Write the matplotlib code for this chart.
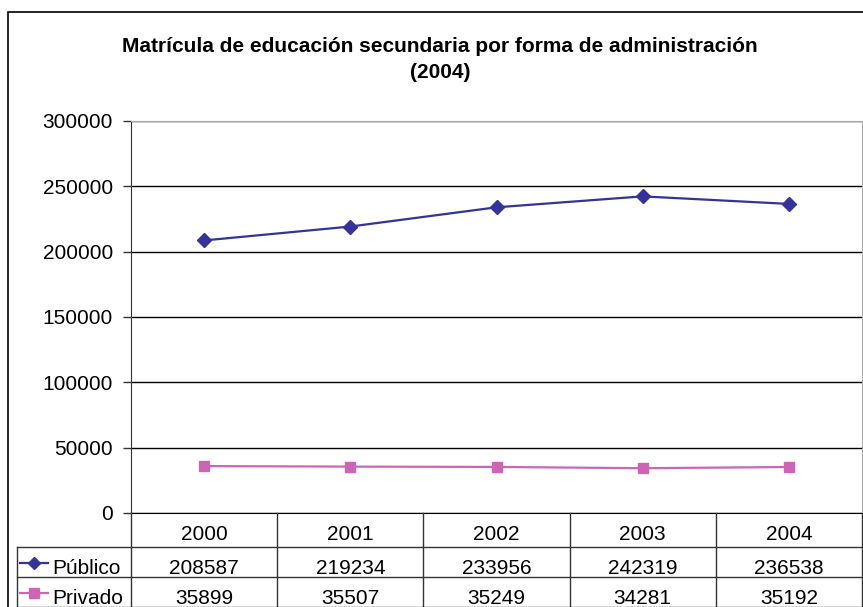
import numpy as np
import matplotlib
matplotlib.use('Agg')
import matplotlib.pyplot as plt
from matplotlib.patches import Rectangle
from matplotlib.lines import Line2D
from matplotlib.transforms import blended_transform_factory

plt.rcParams['font.family'] = ['Liberation Sans', 'DejaVu Sans']

# datos
years = ['2000', '2001', '2002', '2003', '2004']
publico = [208587, 219234, 233956, 242319, 236538]
privado = [35899, 35507, 35249, 34281, 35192]
series_names = ['Público', 'Privado']
series_colors = ['#333399', '#CC66B4']
series_markers = ['D', 's']

W, H = 863, 607
fig = plt.figure(figsize=(W / 100, H / 100), dpi=100)

def fx(px):
    return px / W

def fy(py):
    return 1 - py / H

# marco exterior del grafico
fig.patches.append(Rectangle((fx(8), fy(700)), fx(900), fy(12) - fy(700),
                             transform=fig.transFigure, fill=False,
                             edgecolor='black', lw=1.2))

ax = fig.add_axes([fx(131), fy(513), fx(862) - fx(131), fy(121) - fy(513)])
x = np.arange(len(years))
ax.plot(x, publico, color=series_colors[0], marker=series_markers[0],
        markersize=7, lw=1.6)
ax.plot(x, privado, color=series_colors[1], marker=series_markers[1],
        markersize=7, lw=1.6)

ax.set_xlim(-0.5, len(years) - 0.5)
ax.set_ylim(0, 300000)
ax.set_yticks(np.arange(0, 300001, 50000))
ax.set_yticklabels([str(v) for v in range(0, 300001, 50000)], fontsize=15)
ax.set_xticks([])
ax.tick_params(axis='y', length=6, width=1, pad=7, color='#333333')
ax.grid(axis='y', color='black', lw=1)
ax.set_axisbelow(True)
for s in ['top', 'right']:
    ax.spines[s].set_color('#aaaaaa')
ax.spines['left'].set_color('#333333')
ax.spines['bottom'].set_color('black')

fig.text(fx(440), fy(47), 'Matrícula de educación secundaria por forma de administración',
         ha='center', va='center', fontsize=15, fontweight='bold')
fig.text(fx(440), fy(73), '(2004)', ha='center', va='center',
         fontsize=15, fontweight='bold')

# tabla de datos
tr = blended_transform_factory(ax.transData, fig.transFigure)
row_tops = [513, 547, 577]
row_bottom = 607
edges = np.arange(len(years) + 1) - 0.5
for e in edges:
    top = row_tops[0]
    fig.add_artist(Line2D([e, e], [fy(top), fy(row_bottom + 5)], transform=tr,
                          color='#333333', lw=1))
for py in row_tops[1:] + [row_bottom]:
    fig.add_artist(Line2D([fx(17), fx(862)], [fy(py), fy(py)],
                          transform=fig.transFigure, color='#333333', lw=1))
fig.add_artist(Line2D([fx(17), fx(17)], [fy(547), fy(row_bottom + 5)],
                      transform=fig.transFigure, color='#333333', lw=1))

for i, yr in enumerate(years):
    fig.text(x[i], fy(534), yr, transform=tr, ha='center', va='center', fontsize=15)

rows = [publico, privado]
row_y = [569, 599]
for vals, name, col, mk, yy in zip(rows, series_names, series_colors,
                                   series_markers, row_y):
    for i, v in enumerate(vals):
        fig.text(x[i], fy(yy), str(v), transform=tr, ha='center', va='center',
                 fontsize=15)
    fig.add_artist(Line2D([fx(20), fx(48)], [fy(yy - 6), fy(yy - 6)],
                          transform=fig.transFigure, color=col, lw=1.6))
    fig.add_artist(Line2D([fx(34)], [fy(yy - 6)], transform=fig.transFigure,
                          color=col, marker=mk, markersize=6.5, lw=0))
    fig.text(fx(52), fy(yy), name, ha='left', va='center', fontsize=15)

fig.savefig('out.png', dpi=100)
